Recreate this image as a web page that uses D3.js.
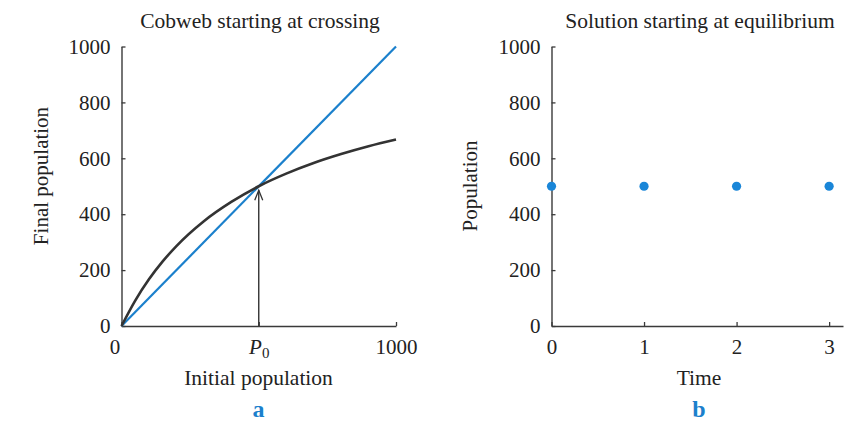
<!DOCTYPE html>
<html>
<head>
<meta charset="utf-8">
<script src="https://cdn.jsdelivr.net/npm/d3@7"></script>
<style>
  html, body { margin: 0; padding: 0; background: #fff; }
  svg text { font-family: "Liberation Serif", "Times New Roman", serif; fill: #222; }
</style>
</head>
<body>
<svg id="chart" width="855" height="421"></svg>
<script>
// Panel a: update curve (final vs initial population) and the identity line
const curveInitial = [0, 50, 100, 150, 200, 300, 400, 500, 600, 700, 800, 900, 1000];
const curveFinal   = [0, 91, 167, 231, 286, 375, 444, 500, 545, 583, 615, 643, 667];
const identityLine = [0, 1000];
const equilibrium  = 500;
const xTicksA = [0, 500, 1000];
const xTickLabelsA = ["0", "P0", "1000"];

// Panel b: population over time when starting at equilibrium
const times = [0, 1, 2, 3];
const populations = [500, 500, 500, 500];
const timeMax = 3.15;

const popTicks = [0, 200, 400, 600, 800, 1000];

const BLUE = "#1b80cc";
const DOT = "#1a86d8";
const INK = "#333";

const svg = d3.select("#chart");

const y = d3.scaleLinear().domain([0, 1000]).range([326, 46.5]);

function styleAxis(g) {
  g.select(".domain").attr("stroke", "#3a3a3a").attr("stroke-width", 1.4);
  g.selectAll(".tick line").attr("stroke", "#3a3a3a").attr("stroke-width", 1.3);
  g.selectAll(".tick text")
    .attr("font-family", "Liberation Serif, Times New Roman, serif")
    .attr("font-size", 21).attr("fill", "#1e1e1e");
}

// ---------- Panel a ----------
const xA = d3.scaleLinear().domain([0, 1000]).range([121.5, 396]);
const gA = svg.append("g");

gA.append("g")
  .attr("transform", `translate(${xA(0)},0)`)
  .call(d3.axisLeft(y).tickValues(popTicks).tickSize(-4).tickSizeOuter(0).tickPadding(11).tickFormat(d3.format("d")))
  .call(styleAxis);

const axA = gA.append("g")
  .attr("transform", `translate(0,${y(0)})`)
  .call(d3.axisBottom(xA).tickValues(xTicksA).tickSize(-4).tickSizeOuter(0).tickPadding(13)
        .tickFormat((d, i) => xTickLabelsA[i]))
  .call(styleAxis);

// P with subscript 0 for the middle tick; the origin label sits a bit left
axA.selectAll(".tick text").each(function (d, i) {
  const t = d3.select(this);
  if (xTickLabelsA[i] === "P0") {
    t.text(null);
    t.append("tspan").attr("font-style", "italic").text("P");
    t.append("tspan").attr("font-size", 15).attr("dy", 4).text("0");
  } else if (d === 0) {
    t.attr("dx", -7);
  }
});

// identity line
gA.append("line")
  .attr("x1", xA(identityLine[0])).attr("y1", y(identityLine[0]))
  .attr("x2", xA(identityLine[1])).attr("y2", y(identityLine[1]))
  .attr("stroke", BLUE).attr("stroke-width", 2.2);

// update curve
const curvePts = curveInitial.map((v, i) => [v, curveFinal[i]]);
gA.append("path")
  .datum(curvePts)
  .attr("fill", "none")
  .attr("stroke", INK)
  .attr("stroke-width", 2.6)
  .attr("d", d3.line().x(d => xA(d[0])).y(d => y(d[1])).curve(d3.curveMonotoneX));

// arrow from the axis up to the crossing point
const ax = xA(equilibrium), tipY = y(equilibrium) + 4;
gA.append("line")
  .attr("x1", ax).attr("y1", y(0)).attr("x2", ax).attr("y2", tipY)
  .attr("stroke", INK).attr("stroke-width", 1.4);
gA.append("path")
  .attr("d", `M${ax - 4},${tipY + 10} L${ax},${tipY} L${ax + 4},${tipY + 10}`)
  .attr("fill", "none").attr("stroke", INK).attr("stroke-width", 1.3);

gA.append("text").attr("x", 260).attr("y", 28).attr("text-anchor", "middle")
  .attr("font-size", 21.5).text("Cobweb starting at crossing");
gA.append("text").attr("x", 258.5).attr("y", 385).attr("text-anchor", "middle")
  .attr("font-size", 21.5).text("Initial population");
gA.append("text").attr("transform", "translate(41,176) rotate(-90)")
  .attr("text-anchor", "middle").attr("dominant-baseline", "central")
  .attr("font-size", 21).text("Final population");
gA.append("text").attr("x", 258.5).attr("y", 417).attr("text-anchor", "middle")
  .attr("font-size", 24).attr("font-weight", "bold").style("fill", BLUE).text("a");

// ---------- Panel b ----------
const xB = d3.scaleLinear().domain([0, timeMax]).range([551.5, 843]);
const gB = svg.append("g");

gB.append("g")
  .attr("transform", `translate(${xB(0)},0)`)
  .call(d3.axisLeft(y).tickValues(popTicks).tickSize(-4).tickSizeOuter(0).tickPadding(11).tickFormat(d3.format("d")))
  .call(styleAxis);

gB.append("g")
  .attr("transform", `translate(0,${y(0)})`)
  .call(d3.axisBottom(xB).tickValues(times).tickSize(-4).tickSizeOuter(0).tickPadding(13).tickFormat(d3.format("d")))
  .call(styleAxis);

gB.selectAll("circle.pt")
  .data(times.map((t, i) => [t, populations[i]]))
  .join("circle")
  .attr("class", "pt")
  .attr("cx", d => xB(d[0])).attr("cy", d => y(d[1]))
  .attr("r", 4.6).attr("fill", DOT);

gB.append("text").attr("x", 700).attr("y", 28).attr("text-anchor", "middle")
  .attr("font-size", 21.5).text("Solution starting at equilibrium");
gB.append("text").attr("x", 699).attr("y", 385).attr("text-anchor", "middle")
  .attr("font-size", 21.5).text("Time");
gB.append("text").attr("transform", "translate(470,186) rotate(-90)")
  .attr("text-anchor", "middle").attr("dominant-baseline", "central")
  .attr("font-size", 21).text("Population");
gB.append("text").attr("x", 699).attr("y", 417).attr("text-anchor", "middle")
  .attr("font-size", 24).attr("font-weight", "bold").style("fill", BLUE).text("b");
</script>
</body>
</html>
